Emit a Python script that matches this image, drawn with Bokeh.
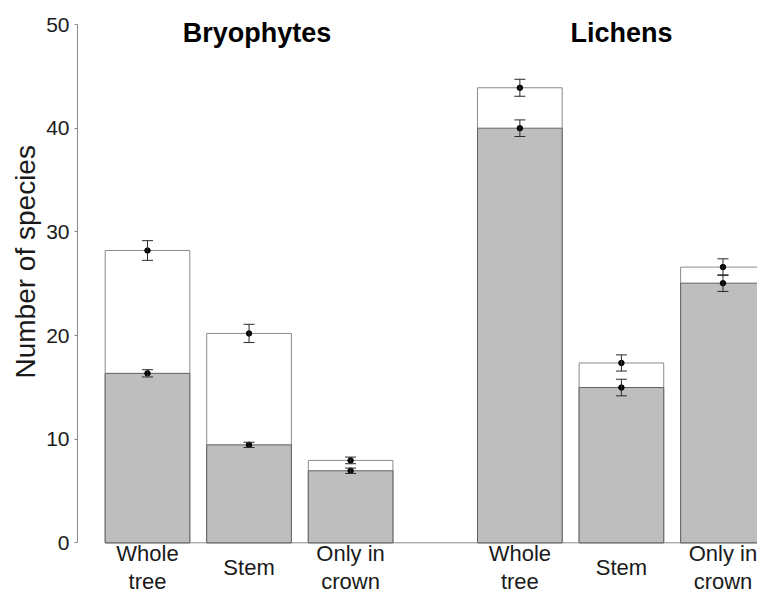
from bokeh.plotting import figure
from bokeh.models import Range1d, FixedTicker, ColumnDataSource, Whisker, TeeHead, Title
from bokeh.core.properties import value
from bokeh.embed import file_html
from bokeh.resources import INLINE

# ---- data ----
groups = ["Bryophytes", "Lichens"]
categories = ["Whole\ntree", "Stem", "Only in\ncrown"]
total_mean = [28.2, 20.2, 7.95, 43.9, 17.35, 26.6]
total_se = [0.95, 0.88, 0.32, 0.82, 0.78, 0.8]
sub_mean = [16.35, 9.45, 6.95, 40.0, 14.98, 25.05]
sub_se = [0.35, 0.25, 0.26, 0.8, 0.8, 0.8]
y_ticks = [0, 10, 20, 30, 40, 50]

# ---- layout ----
bar_w = 1.0
bar_step = 1.2
group_gap = 0.8
n = len(categories)
xs = []
cats = []
for g in range(len(groups)):
    for i in range(n):
        xs.append(g * (n * bar_step + group_gap) + i * bar_step)
        cats.append(categories[i])
group_centers = [g * (n * bar_step + group_gap) + (n - 1) / 2 * bar_step for g in range(len(groups))]

FONT = "Liberation Sans"

p = figure(width=757, height=596, output_backend="svg", toolbar_location=None,
           x_range=Range1d(-0.827, 7.208), y_range=Range1d(-5.18, 52.32),
           x_axis_location=None, min_border_left=77, min_border_right=0,
           min_border_top=0, min_border_bottom=0)
p.outline_line_color = None
p.grid.visible = False
p.background_fill_color = "white"

src = ColumnDataSource(dict(
    x=xs, tot=total_mean, sub=sub_mean,
    tot_lo=[m - s for m, s in zip(total_mean, total_se)],
    tot_hi=[m + s for m, s in zip(total_mean, total_se)],
    sub_lo=[m - s for m, s in zip(sub_mean, sub_se)],
    sub_hi=[m + s for m, s in zip(sub_mean, sub_se)],
    lab=cats,
))

# baseline
p.segment(x0=[xs[0] - bar_w / 2], y0=[0], x1=[p.x_range.end + 1], y1=[0],
          line_color="#8a8a8a", line_width=1)

p.vbar(x="x", top="tot", bottom=0, width=bar_w, source=src,
       fill_color="white", line_color="#8a8a8a", line_width=1)
p.vbar(x="x", top="sub", bottom=0, width=bar_w, source=src,
       fill_color="#bebebe", line_color="#616161", line_width=1)

for lo, hi in (("tot_lo", "tot_hi"), ("sub_lo", "sub_hi")):
    w = Whisker(base="x", lower=lo, upper=hi, source=src, level="overlay",
                line_color="#2a2a2a", line_width=1,
                upper_head=TeeHead(size=11, line_color="#2a2a2a", line_width=1),
                lower_head=TeeHead(size=11, line_color="#2a2a2a", line_width=1))
    p.add_layout(w)

p.scatter(x="x", y="tot", source=src, size=5.5, color="black", level="overlay")
p.scatter(x="x", y="sub", source=src, size=5.5, color="black", level="overlay")

# category labels
p.text(x="x", y=-2.4, text="lab", source=src, text_align="center", text_baseline="middle",
       text_font=value(FONT), text_font_size="22px", text_color="#1a1a1a",
       text_line_height=1.12)

# group titles
p.text(x=group_centers, y=[49.2, 49.2], text=groups, x_offset=[8, 0],
       text_align="center", text_baseline="alphabetic",
       text_font=value(FONT), text_font_size="27px", text_font_style="bold",
       text_color="black")

# y axis
ax = p.yaxis[0]
ax.ticker = FixedTicker(ticks=y_ticks)
ax.bounds = (0, 50)
ax.axis_line_color = "#8a8a8a"
ax.major_tick_line_color = "#8a8a8a"
ax.major_tick_out = 3
ax.major_tick_in = 0
ax.minor_tick_out = 0
ax.minor_tick_in = 0
ax.major_label_text_font = FONT
ax.major_label_text_font_size = "21px"
ax.major_label_text_color = "#1a1a1a"
ax.major_label_standoff = 5

# y axis title (placed like the original, off-centre)
p.add_layout(Title(text="Number of species", align="left", offset=218, standoff=6,
                   text_font=FONT, text_font_size="28px", text_font_style="normal",
                   text_color="#1a1a1a"), "left")

open("out.html", "w").write(file_html(p, INLINE))
